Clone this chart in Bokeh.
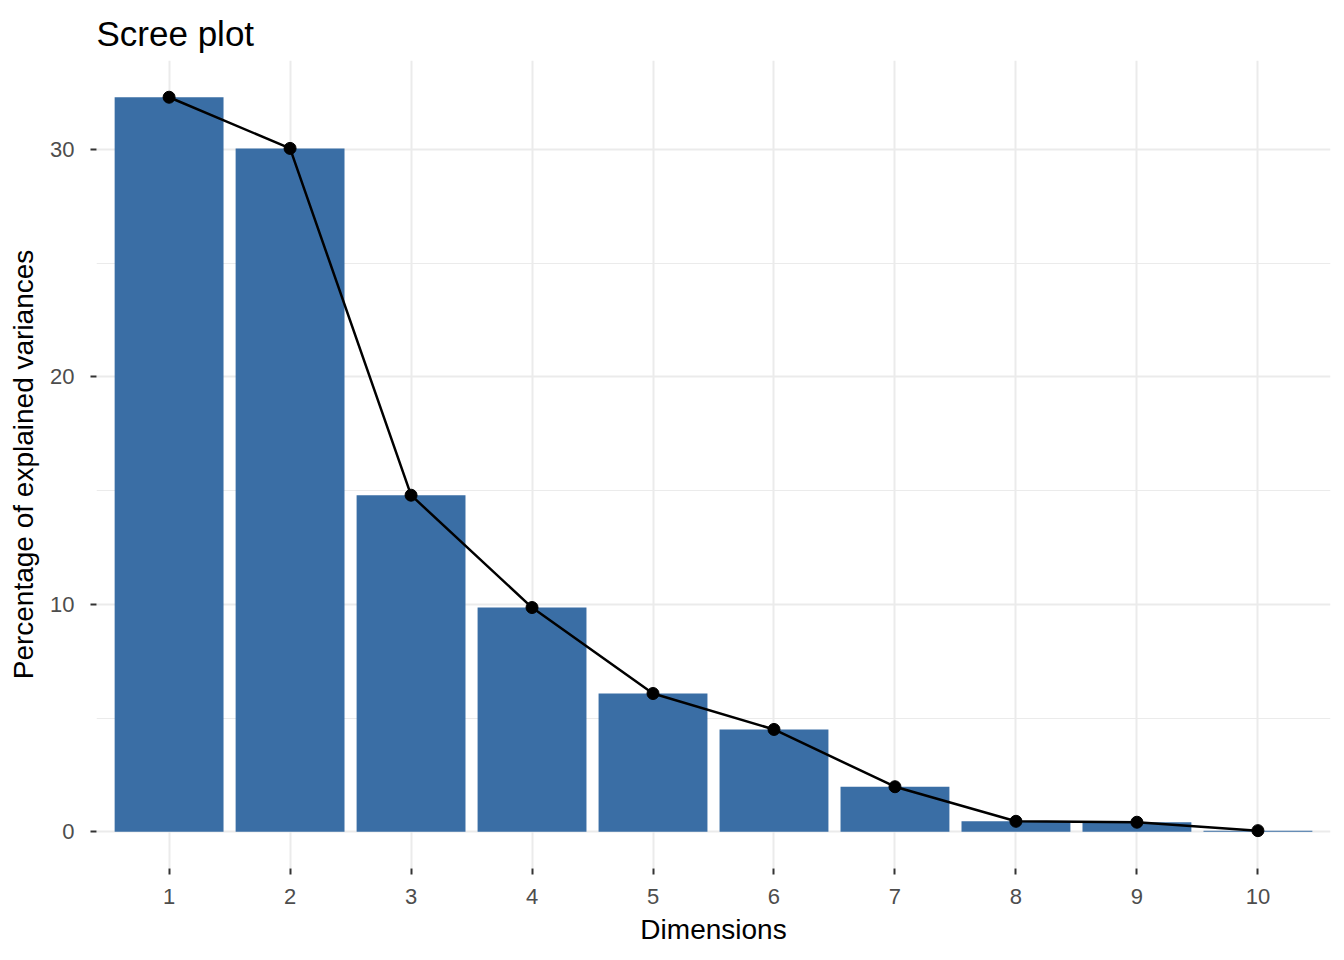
from bokeh.plotting import figure
from bokeh.models import ColumnDataSource, FixedTicker
from bokeh.embed import file_html
from bokeh.resources import INLINE

dimensions = [1, 2, 3, 4, 5, 6, 7, 8, 9, 10]
variances = [32.3, 30.05, 14.8, 9.86, 6.08, 4.5, 1.98, 0.46, 0.42, 0.05]
y_ticks = [0, 10, 20, 30]
y_minor = [5, 15, 25]

FONT = "Liberation Sans"
BAR = "#3A6EA5"
GRID = "#EBEBEB"

src = ColumnDataSource(dict(dim=dimensions, val=variances))

ymax = max(variances)
pad = 0.05 * ymax

p = figure(width=1336, height=956, output_backend="svg", toolbar_location=None,
           x_range=(0.4, 10.6), y_range=(-pad, ymax + pad),
           min_border_left=96, min_border_right=6, min_border_top=60, min_border_bottom=88,
           title="Scree plot")
p.outline_line_color = None
p.background_fill_color = "white"
p.border_fill_color = "white"

p.title.text_font = FONT
p.title.text_font_size = "35px"
p.title.text_font_style = "normal"
p.title.text_color = "black"
p.title.align = "left"
p.title.vertical_align = "middle"
p.title.standoff = 14

p.vbar(x="dim", top="val", width=0.9, source=src, fill_color=BAR, line_color=None)
p.line(x="dim", y="val", source=src, line_color="black", line_width=2.5)
p.scatter(x="dim", y="val", source=src, size=12, fill_color="black", line_color="black")

p.xaxis.ticker = FixedTicker(ticks=dimensions)
p.yaxis.ticker = FixedTicker(ticks=y_ticks, minor_ticks=y_minor)

for ax in (p.xaxis, p.yaxis):
    ax.axis_line_color = None
    ax.major_tick_line_color = "#333333"
    ax.major_tick_line_width = 2
    ax.major_tick_out = 6
    ax.major_tick_in = 0
    ax.minor_tick_line_color = None
    ax.major_label_text_font = FONT
    ax.major_label_text_font_size = "22px"
    ax.major_label_text_color = "#4D4D4D"
    ax.axis_label_text_font = FONT
    ax.axis_label_text_font_size = "28px"
    ax.axis_label_text_font_style = "normal"
    ax.axis_label_text_color = "black"

p.xaxis.axis_label = "Dimensions"
p.yaxis.axis_label = "Percentage of explained variances"
p.xaxis.major_label_standoff = 14
p.yaxis.major_label_standoff = 16
p.xaxis.axis_label_standoff = 7
p.yaxis.axis_label_standoff = 8

p.xgrid.grid_line_color = GRID
p.xgrid.grid_line_width = 2
p.ygrid.grid_line_color = GRID
p.ygrid.grid_line_width = 2
p.ygrid.minor_grid_line_color = GRID
p.ygrid.minor_grid_line_width = 1
p.xgrid.level = "underlay"
p.ygrid.level = "underlay"

open("out.html", "w").write(file_html(p, INLINE))
